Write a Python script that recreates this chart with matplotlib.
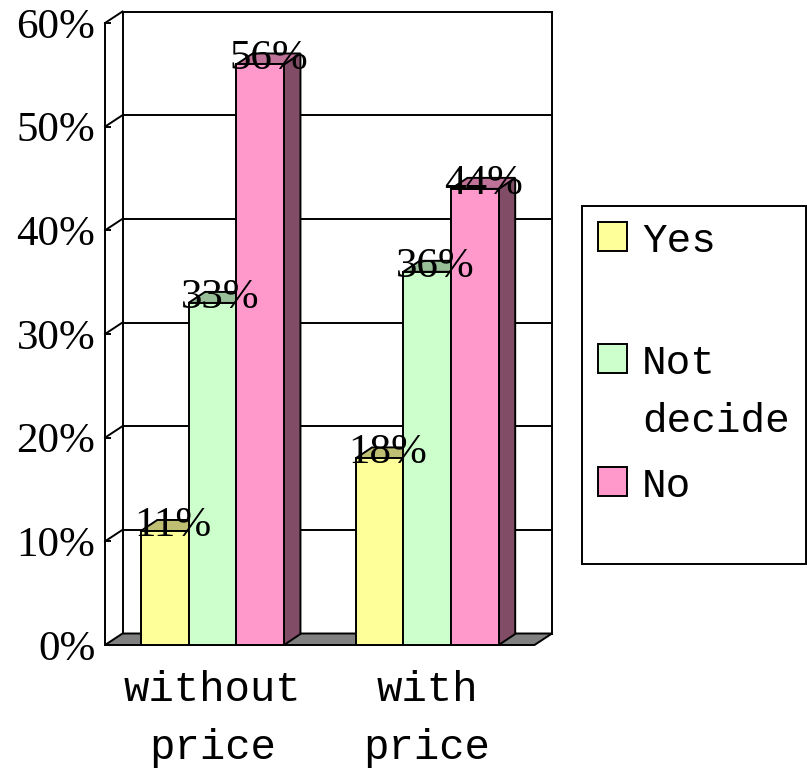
import numpy as np
import matplotlib
matplotlib.use("Agg")
import matplotlib.pyplot as plt
from matplotlib.patches import Polygon, Patch
from matplotlib.lines import Line2D
from matplotlib.transforms import ScaledTranslation

# ---------------- data ----------------
categories = ["without\nprice", "with\nprice"]
series_names = ["Yes", "Not\ndecide", "No"]
yes_vals = [11, 18]
notdecide_vals = [33, 36]
no_vals = [56, 44]
yticks = [0, 10, 20, 30, 40, 50, 60]
ytick_labels = ["0%", "10%", "20%", "30%", "40%", "50%", "60%"]

front_colors = ["#FFFF99", "#CCFFCC", "#FF99CC"]
top_colors = ["#BFBF73", "#99BF99", "#BF7399"]
side_colors = ["#80804C", "#668066", "#804C66"]

# ---------------- layout ----------------
W, H, DPI = 807, 769, 100
fig = plt.figure(figsize=(W / DPI, H / DPI), dpi=DPI, facecolor="white")
ax = fig.add_axes([105 / W, (H - 645) / H, 429.5 / W, 622 / H])
ax.set_xlim(-0.5, 1.5)
ax.set_ylim(0, 60)
ax.patch.set_visible(False)
LW = 1.4
DX, DY = 17.5, 11.5      # depth of floor / walls in pixels
BDX, BDY = 16.5, 11.0    # depth of bars in pixels

SERIF = "Liberation Serif"
MONO = "Liberation Mono"
SERIF_SIZE = 31
MONO_SIZE = 30.5
LEG_SIZE = 29.5


def back(x, y, dx=DX, dy=DY):
    p = ax.transData.transform((x, y)) + np.array([dx, dy])
    return tuple(ax.transData.inverted().transform(p))


def line(p0, p1, z=1):
    ax.add_line(Line2D([p0[0], p1[0]], [p0[1], p1[1]], color="black", lw=LW,
                       zorder=z, clip_on=False, solid_capstyle="projecting"))


x0, x1 = ax.get_xlim()
# back wall grid lines + top edge
for v in yticks[1:]:
    line(back(x0, v), back(x1, v))
# back wall vertical edges
line(back(x0, 0), back(x0, yticks[-1]))
line(back(x1, 0), back(x1, yticks[-1]))
# side wall diagonals
for v in yticks[1:]:
    line((x0, v), back(x0, v))

# floor
floor = Polygon([(x0, 0), (x1, 0), back(x1, 0), back(x0, 0)], closed=True,
                facecolor="#808080", edgecolor="black", lw=LW, zorder=2,
                clip_on=False, joinstyle="miter")
ax.add_patch(floor)

# ---------------- bars ----------------
all_vals = [yes_vals, notdecide_vals, no_vals]
n = len(all_vals)
w = 1 / 4.5
xc = np.arange(len(categories))
label_tr = ax.transData + ScaledTranslation(BDX / 2 / DPI, -5 / DPI, fig.dpi_scale_trans)
for j, vals in enumerate(all_vals):
    centers = xc + (j - (n - 1) / 2) * w
    for c, v in zip(centers, vals):
        a, b = c - w / 2, c + w / 2
        side = Polygon([(b, 0), (b, v), back(b, v, BDX, BDY), back(b, 0, BDX, BDY)],
                       closed=True, facecolor=side_colors[j], edgecolor="black",
                       lw=LW, zorder=3 + 2 * j, clip_on=False)
        top = Polygon([(a, v), (b, v), back(b, v, BDX, BDY), back(a, v, BDX, BDY)],
                      closed=True, facecolor=top_colors[j], edgecolor="black",
                      lw=LW, zorder=3 + 2 * j, clip_on=False)
        ax.add_patch(side)
        ax.add_patch(top)
        ax.text(c, v, f"{v}%", transform=label_tr, ha="center", va="baseline",
                fontsize=SERIF_SIZE, family=SERIF, zorder=30)
    ax.bar(centers, vals, width=w, color=front_colors[j], edgecolor="black",
           lw=LW, zorder=4 + 2 * j, clip_on=False)

# ---------------- axes ----------------
for s in ["top", "right", "bottom"]:
    ax.spines[s].set_visible(False)
ax.spines["left"].set_linewidth(LW)
ax.spines["left"].set_zorder(10)

ax.set_yticks(yticks)
ax.set_yticklabels(ytick_labels, family=SERIF, fontsize=SERIF_SIZE)
ax.tick_params(axis="y", direction="in", length=4, width=LW, pad=7)

ax.set_xticks(xc)
ax.set_xticklabels(categories, family=MONO, fontsize=MONO_SIZE)
ax.set_xticks([0.5, 1.5], minor=True)
ax.tick_params(axis="x", which="major", length=0, pad=18)
ax.tick_params(axis="x", which="minor", direction="in", length=5, width=LW)
plt.setp(ax.get_xticklabels(), linespacing=1.58)

# ---------------- legend ----------------
handles = [Patch(facecolor=c, edgecolor="black", lw=LW) for c in front_colors]
leg_labels = ["Yes\n ", "Not\ndecide", "No\n "]
leg = fig.legend(handles, leg_labels, loc="upper left",
                 bbox_to_anchor=(582 / W, 1 - 206 / H), borderaxespad=0,
                 prop={"family": MONO, "size": LEG_SIZE}, handlelength=0.72,
                 handleheight=0.72, handletextpad=0.37, borderpad=0.38,
                 labelspacing=0.66, frameon=True, fancybox=False,
                 edgecolor="black", framealpha=1)
leg.get_frame().set_linewidth(LW)
texts = leg.get_texts()
for t in texts:
    t.set_linespacing(1.65)
texts[-1].set_linespacing(1.2)
for col in leg._legend_handle_box.get_children():
    for item in col.get_children():
        item.align = "top"

fig.savefig("out.png", dpi=DPI, facecolor="white")
